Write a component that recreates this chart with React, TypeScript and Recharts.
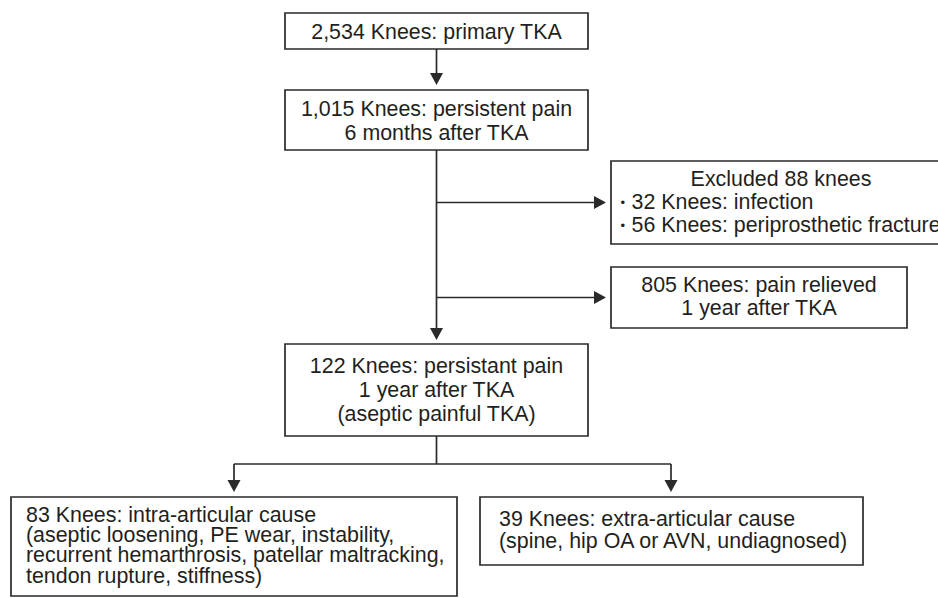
import React from 'react';
import { ScatterChart, Scatter, XAxis, YAxis, ReferenceArea, ReferenceLine } from 'recharts';

const W = 938;
const H = 598;

// ---- content (texts / counts) ----
const primaryTKA = ['2,534 Knees: primary TKA'];
const persistent6m = ['1,015 Knees: persistent pain', '6 months after TKA'];
const excludedTitle = 'Excluded 88 knees';
const excludedReasons = ['32 Knees: infection', '56 Knees: periprosthetic fracture'];
const relieved1y = ['805 Knees: pain relieved', '1 year after TKA'];
const persistent1y = ['122 Knees: persistant pain', '1 year after TKA', '(aseptic painful TKA)'];
const intraArticular = [
  '83 Knees: intra-articular cause',
  '(aseptic loosening, PE wear, instability,',
  'recurrent hemarthrosis, patellar maltracking,',
  'tendon rupture, stiffness)',
];
const extraArticular = ['39 Knees: extra-articular cause', '(spine, hip OA or AVN, undiagnosed)'];

// ---- layout (chart units) ----
type Box = { x1: number; x2: number; y1: number; y2: number };
type Line = { text: string; x: number; anchor: 'middle' | 'start'; bullet?: boolean };
type Block = { x: number; y: number; gap: number; lines: Line[] };

const boxes: Box[] = [
  { x1: 285, x2: 588, y1: 13, y2: 49 },
  { x1: 285, x2: 588, y1: 90, y2: 150 },
  { x1: 611, x2: 951, y1: 161, y2: 244 },
  { x1: 611, x2: 907, y1: 267, y2: 328 },
  { x1: 285, x2: 588, y1: 344, y2: 436 },
  { x1: 11, x2: 457, y1: 497, y2: 596 },
  { x1: 480, x2: 863, y1: 497, y2: 565 },
];

const simple = (lines: string[], x: number, y: number, gap: number, anchor: 'middle' | 'start'): Block => ({
  x,
  y,
  gap,
  lines: lines.map((t) => ({ text: t, x, anchor })),
});

const textBlocks: Block[] = [
  simple(primaryTKA, 436.5, 38.5, 24, 'middle'),
  simple(persistent6m, 436.5, 115.5, 24, 'middle'),
  {
    x: 781,
    y: 185.5,
    gap: 23,
    lines: [
      { text: excludedTitle, x: 781, anchor: 'middle' },
      ...excludedReasons.map((t) => ({ text: t, x: 631.5, anchor: 'start' as const, bullet: true })),
    ],
  },
  simple(relieved1y, 759, 291.5, 23, 'middle'),
  simple(persistent1y, 436.5, 372.5, 24, 'middle'),
  simple(intraArticular, 26, 521.5, 20.4, 'start'),
  simple(extraArticular, 499, 525.5, 22, 'start'),
];

const connectors: [number, number, number, number][] = [
  [436.5, 49, 436.5, 80],
  [436.5, 150, 436.5, 335],
  [436.5, 202.5, 600, 202.5],
  [436.5, 297.5, 600, 297.5],
  [436.5, 436, 436.5, 464],
  [234, 464, 671, 464],
  [234, 464, 234, 487],
  [671, 464, 671, 487],
];

const arrowTips = [
  { x: 436.5, y: 85, dir: 'down' },
  { x: 436.5, y: 340, dir: 'down' },
  { x: 606, y: 202.5, dir: 'right' },
  { x: 606, y: 297.5, dir: 'right' },
  { x: 234, y: 492, dir: 'down' },
  { x: 671, y: 492, dir: 'down' },
];

const INK = '#231f20';
const LINE = '#2a2a2a';
const FONT = '"Liberation Sans", Arial, Helvetica, sans-serif';
const FS = 21.4;

const TextShape = (props: any) => {
  const { cx, cy, payload } = props;
  if (cx == null || cy == null) return null;
  const b: Block = payload;
  const dx = cx - b.x;
  const parts: React.ReactNode[] = [];
  b.lines.forEach((l, i) => {
    const y = cy + i * b.gap;
    if (l.bullet) {
      parts.push(
        <tspan key={`b${i}`} x={l.x + dx - 11} y={y - 2} fontSize={13} textAnchor="start">
          •
        </tspan>
      );
    }
    parts.push(
      <tspan key={`t${i}`} x={l.x + dx} y={y} textAnchor={l.anchor}>
        {l.text}
      </tspan>
    );
  });
  return (
    <text fontFamily={FONT} fontSize={FS} fill={INK}>
      {parts}
    </text>
  );
};

const ArrowShape = (props: any) => {
  const { cx, cy, payload } = props;
  if (cx == null || cy == null) return null;
  const L = 12;
  const h = 6.5;
  const pts =
    payload.dir === 'down'
      ? `${cx},${cy} ${cx - h},${cy - L} ${cx + h},${cy - L}`
      : `${cx},${cy} ${cx - L},${cy - h} ${cx - L},${cy + h}`;
  return <polygon points={pts} fill={LINE} />;
};

export default function App() {
  return (
    <div style={{ position: 'absolute', left: 0, top: 0, width: W, height: H, background: '#fff', overflow: 'hidden' }}>
      <ScatterChart width={W} height={H} margin={{ top: 0, right: 0, bottom: 0, left: 0 }}>
        <XAxis type="number" dataKey="x" domain={[0, W]} hide allowDataOverflow />
        <YAxis type="number" dataKey="y" domain={[0, H]} reversed hide allowDataOverflow />
        {connectors.map((c, i) => (
          <ReferenceLine
            key={`c${i}`}
            segment={[{ x: c[0], y: c[1] }, { x: c[2], y: c[3] }]}
            stroke={LINE}
            strokeWidth={1.7}
            ifOverflow="visible"
          />
        ))}
        {boxes.map((b, i) => (
          <ReferenceArea
            key={`b${i}`}
            x1={b.x1}
            x2={b.x2}
            y1={b.y1}
            y2={b.y2}
            fill="#ffffff"
            fillOpacity={1}
            stroke={LINE}
            strokeWidth={1.7}
            ifOverflow="visible"
          />
        ))}
        <Scatter data={arrowTips} shape={ArrowShape} isAnimationActive={false} />
        <Scatter data={textBlocks} shape={TextShape} isAnimationActive={false} />
      </ScatterChart>
    </div>
  );
}
